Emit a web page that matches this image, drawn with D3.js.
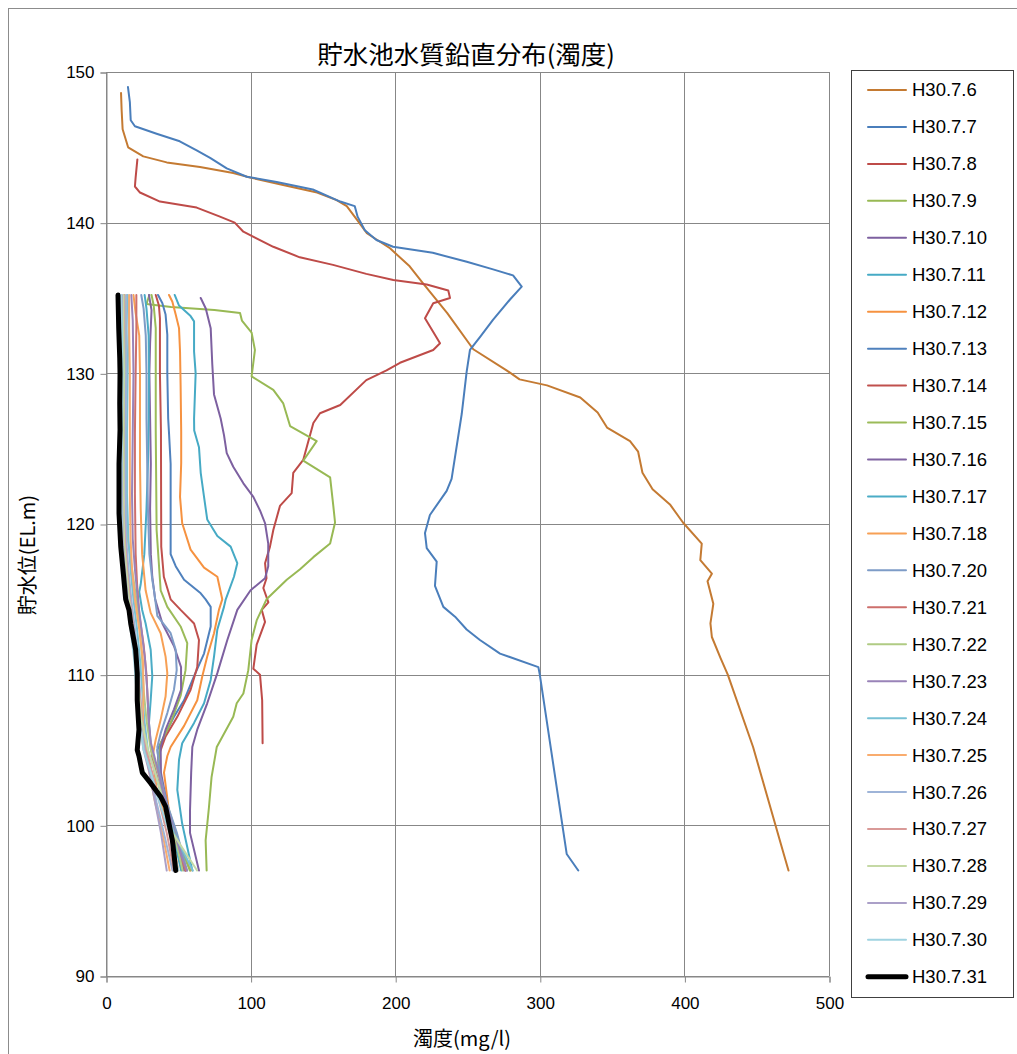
<!DOCTYPE html>
<html lang="ja">
  <head>
    <meta charset="utf-8">
    <title>貯水池水質鉛直分布(濁度)</title>
    <script src="https://cdn.jsdelivr.net/npm/d3@7/dist/d3.min.js"></script>
    <style>
      body { margin: 0; background: #fff; }
      svg text { fill: #000; }
    </style>
  </head>
  <body>
    <div id="chart-area"></div>
    <script>
      // [turbidity mg/l, elevation EL.m]
      const s0706 = [[10.4,148.6],[10.8,147.5],[11.5,146.2],[15.3,145.0],[25.8,144.4],[42,144.0],[65,143.7],[88,143.3],[99.6,143.0],[122.5,142.5],[146,142.0],[159.5,141.5],[166.5,141.1],[173.5,140.2],[180.4,139.3],[196.4,138.3],[210,137.1],[219,136.0],[236,134.0],[254,131.6],[277,130.2],[286,129.6],[305,129.2],[328,128.4],[340,127.4],[346.5,126.4],[362.4,125.5],[368,124.8],[371,123.4],[378,122.3],[390,121.3],[399,120.1],[412,118.7],[411,117.6],[419,116.7],[416,116.2],[420,114.7],[418,113.4],[419,112.5],[425,111.1],[430,110.0],[447.5,105.2],[469,98.0],[472,97.0]];
      const s0707 = [[15.2,149.0],[16.5,148.0],[17.1,146.8],[20,146.4],[35,145.9],[51,145.4],[62.7,144.8],[72,144.3],[83.5,143.6],[97.3,143.05],[118,142.7],[143,142.2],[162,141.4],[172,141.1],[174,140.4],[179,139.5],[187,138.85],[198.5,138.4],[226,138.0],[249.5,137.4],[267.7,136.9],[281.5,136.5],[287.5,135.75],[279.4,134.9],[267.6,133.55],[258.6,132.4],[251.7,131.55],[249.4,130.1],[246,127.3],[239,123.0],[235.6,122.2],[224,120.6],[220.6,119.4],[221.8,118.4],[228.7,117.5],[227.5,115.9],[233.3,114.5],[241.4,113.85],[249.4,113.0],[258.6,112.3],[272.5,111.4],[299,110.5],[300,110.0],[318.6,98.1],[326.6,97.0]];
      const s0708 = [[21.7,144.2],[20.5,143.0],[20,142.4],[23.5,142.0],[37.3,141.4],[62.7,141.0],[78.8,140.4],[89,140.0],[95,139.4],[115.7,138.4],[134,137.7],[157,137.2],[180,136.6],[198.7,136.2],[221.8,135.9],[236.7,135.5],[237.9,135.0],[226.3,134.65],[220.6,133.65],[231,132.0],[226.3,131.55],[203.3,130.7],[194,130.2],[180,129.55],[162,127.9],[148,127.35],[143.4,126.7],[138.8,125.1],[136.4,124.25],[129.5,123.4],[128.4,122.05],[120.3,121.2],[115.7,119.6],[113.4,118.5],[110,117.4],[111,116.4],[108.8,115.75],[112.3,114.8],[107.7,114.3],[110,113.5],[104.2,112.0],[101.9,110.4],[106.5,110.0],[108,108.3],[108.3,105.45]];
      const s0709 = [[30,135.2],[28,134.6],[45,134.4],[75,134.2],[92.7,134.0],[94,133.5],[100.7,132.7],[103,131.55],[100.7,129.8],[115.7,128.9],[122.6,128.0],[127.3,126.5],[145.7,125.5],[136.4,124.2],[155,123.1],[157.2,121.2],[158.4,120.1],[155,118.7],[143.4,117.8],[134.2,117.0],[125,116.3],[111,115.0],[104.2,113.6],[100.7,112.3],[98.4,110.3],[95,108.75],[90.4,108.1],[88,107.2],[76.6,105.2],[73,103.2],[71.2,101.2],[68.9,99.0],[69.6,97.0]];
      const s0710 = [[65.5,135.0],[69,134.3],[72.4,133.0],[73.5,130.6],[74.7,128.6],[79.3,127.0],[81.6,125.9],[83.5,124.7],[88,123.8],[95,122.7],[101.9,121.8],[106.5,120.9],[110,120.05],[112.2,118.7],[112.2,117.2],[110,116.4],[100,115.6],[90.8,114.3],[83.9,112.3],[77,110.1],[70,108.1],[63.1,106.35],[59.7,105.2],[58.9,103.5],[58.1,101.0],[58.1,99.5],[64.3,97.0]];
      const s0711 = [[47.5,135.2],[50.5,134.5],[58.5,133.8],[60.9,133.45],[60.9,131.45],[62,130.0],[60.9,127.0],[61,126.2],[64.3,125.1],[65.5,123.4],[67.8,121.8],[70,120.3],[77,119.2],[86.2,118.5],[90.8,117.4],[88.5,116.5],[82.8,115.0],[81.6,114.5],[77,113.0],[74.7,111.2],[72.4,109.65],[67.8,108.1],[60.9,106.8],[52.7,105.45],[50.5,104.35],[49.3,102.35],[52.7,100.1],[59.7,97.0]];
      const s0712 = [[43.6,135.2],[45.9,134.75],[48.2,133.9],[50.5,133.0],[51.2,131.45],[51.6,129.2],[52,126.1],[52,124.05],[51.2,121.8],[52.7,120.05],[58.5,118.3],[67.8,117.1],[77,116.5],[80.4,115.0],[78.1,114.3],[74.7,112.75],[70,111.2],[66.6,109.9],[63.1,108.3],[54,106.6],[44.7,105.2],[42.4,104.6],[40.1,103.5],[44.7,100.1],[58.5,97.0]];
      const s0713 = [[36,135.2],[39,134.65],[41.2,133.9],[42.4,132.55],[42.4,130.0],[43,127.0],[43.6,126.0],[44.7,124.0],[44.7,118.0],[48.2,117.2],[54,116.3],[65.5,115.4],[68.9,115.0],[72.4,114.5],[72.4,113.2],[67.8,111.4],[60.9,109.9],[54,108.3],[47,107.2],[40.1,105.9],[35.5,105.0],[38,103],[45,100.2],[55,97.0]];
      const s0714 = [[34.4,135.2],[36.6,134.5],[37.3,133.65],[37.3,130.0],[38,126.2],[38.2,118.5],[40,116.5],[44.7,115.0],[51.6,114.3],[60.9,113.4],[64.3,112.3],[63.1,110.5],[58.5,109.0],[49.3,107.2],[41.2,105.9],[36,104.5],[40,102],[46,100],[55,97.0]];
      const s0715 = [[31.5,135.2],[33,134.5],[34.4,133],[34.4,130],[34.4,126.2],[35,119.6],[37.8,115.6],[42.4,114.5],[51.6,113.2],[56.2,112.1],[55,110.3],[51.6,108.6],[44.7,106.8],[37.8,105.45],[36,104],[42,101.5],[50,99],[58,97.0]];
      const s0716 = [[29.7,135.2],[31.5,134.2],[30.5,132],[30,130],[30.5,127],[31,124],[30.5,121],[31,118],[32,116.5],[34,115],[39,113.4],[47,111.9],[51.9,110.5],[51.9,109.0],[47,107.7],[41.2,106.35],[37.8,105.2],[38,103.5],[42,101.5],[47,99.5],[54,97.0]];
      const s0717 = [[26.7,135.2],[28,134.3],[29.5,132.5],[29.7,130],[29.5,127],[29,124],[28,121],[26.5,118],[24,116],[23,115.5],[25,114.3],[27.4,113.4],[30.9,111.65],[32,109.9],[30.9,108.3],[29.7,106.8],[30.9,105.45],[34,103.5],[40,101.5],[46,99.5],[52,97.0]];
      const s0718 = [[19,135.2],[20.5,134],[23,132.5],[23.5,130],[23.5,127],[23.5,124],[24,121],[25,118],[26.5,116.5],[27.4,115.6],[30.9,114.1],[37.8,112.75],[41.2,111.2],[42.4,110.1],[41.2,108.55],[37.8,107.0],[34.4,105.7],[32,104.5],[35,102.5],[41,100.5],[47,98.5],[50,97.0]];
      const s0720 = [[24.4,135.2],[26,134.3],[27.5,132.5],[28,130],[28,127],[28.5,124],[29,121],[30,118],[32,116.3],[33.2,115.6],[35.5,113.9],[44.7,112.75],[48.2,111.65],[48.9,110.3],[47,109.0],[42.4,107.45],[37.8,106.1],[35.5,105.2],[37,103.5],[42,101.5],[49,99.5],[56,97.0]];
      const s0721 = [[21,135.2],[21,133],[20.5,130],[20,126],[20,122],[20.5,118],[21.5,116],[23,114],[26,112],[28,110],[29,108],[30,106],[32,104.5],[36,103],[42,101],[48,99],[55,97.0]];
      const s0722 = [[13,135.2],[13.5,133],[13,130],[13,126],[13.5,122],[15,119],[18,117],[21,115],[23.5,113],[25,111],[26,109],[28,107],[31,105],[36,103.5],[41,101.5],[47,99.5],[53,97.0]];
      const s0723 = [[17.5,135.2],[18.5,133.5],[19,130],[18.5,126],[18,122],[18.5,119],[20,117],[22,115],[24.5,113],[27,111],[28.5,109],[29.5,107],[31,105.5],[35,104],[40,102],[46,100],[52,98],[56,97.0]];
      const s0724 = [[15,135.2],[15.5,133],[15,130],[14.5,126],[14.5,122],[15.5,119],[17,117],[19,115],[21.5,113],[23.5,111],[25,109],[26.5,107],[29,105],[34,103.5],[40,101.5],[47,99.5],[60,97.0]];
      const s0725 = [[16,135.2],[16,133],[16.5,130],[16.5,126],[16.5,122],[17,119],[18,117],[20,115],[23,113],[25.5,111],[26,109],[25.5,107],[27,105],[30,103.5],[34,101.5],[39,99.5],[44,97.0]];
      const s0726 = [[14,135.2],[14,133],[14,130],[13.5,126],[13.5,122],[14,119],[15.5,117],[17.5,115],[20,113],[22,111],[23.5,109],[25,107],[27,105],[31,103.5],[35,101.5],[40,99.5],[46,97.0]];
      const s0727 = [[12.5,135.2],[12.5,133],[12.5,130],[12,126],[12,122],[13,119],[14.5,117],[16.5,115],[19,113],[21.5,111],[23,109],[25,107],[28,105],[32,103.5],[37,101.5],[42,99.5],[47,97.0]];
      const s0728 = [[12,135.2],[12,133],[12.5,130],[12,126],[12,122],[12.5,119],[14,117],[16,115],[18.5,113],[21,111],[22.5,109],[24.5,107],[29,105],[34,103.5],[40,101.5],[46,99.5],[63,97.0]];
      const s0729 = [[11,135.2],[11,133],[11,130],[11,126],[11,122],[11.5,119],[13,117],[15,115],[17.5,113],[20,111],[21.5,109],[23,107],[26,105],[30,103.5],[34,101.5],[38,99.5],[42,97.0]];
      const s0730 = [[10.5,135.2],[11,133],[11.5,130],[11,126],[10.5,122],[11,119],[12.5,117],[14.5,115],[17,113],[19.5,111],[21,109],[23,107],[26,105],[31,103.5],[37,101.5],[44,99.5],[50,97.0]];
      const s0731 = [[8.3,135.2],[8.8,133],[9.5,131],[9.7,130],[9.5,128],[9.7,126.25],[9,124],[9,122],[9,120.7],[10.2,118.5],[12,116.7],[13.6,115.0],[15.9,114.3],[17.1,113.4],[20.5,111.65],[21.6,110.1],[21.6,108.3],[22.8,106.35],[21.6,105.0],[22.8,104.6],[25.1,103.5],[30.9,102.8],[37.8,101.9],[41.2,101.25],[43.6,100.1],[45.9,99.0],[47,98.1],[48.2,97.0]];

      const seriesNames = ['H30.7.6','H30.7.7','H30.7.8','H30.7.9','H30.7.10','H30.7.11','H30.7.12','H30.7.13','H30.7.14','H30.7.15','H30.7.16','H30.7.17','H30.7.18','H30.7.20','H30.7.21','H30.7.22','H30.7.23','H30.7.24','H30.7.25','H30.7.26','H30.7.27','H30.7.28','H30.7.29','H30.7.30','H30.7.31'];
      const seriesValues = [s0706,s0707,s0708,s0709,s0710,s0711,s0712,s0713,s0714,s0715,s0716,s0717,s0718,s0720,s0721,s0722,s0723,s0724,s0725,s0726,s0727,s0728,s0729,s0730,s0731];
      const seriesColors = ['#C47A32','#4A7EBB','#BE4B48','#98B954','#7D60A0','#46AAC5','#F69240','#4F81BD','#C0504D','#9BBB59','#8064A2','#4BACC6','#F7A055','#7E9CC7','#CD6F6C','#B0CB84','#9983B8','#78C1D5','#F9AC6E','#9EB4D8','#D99A98','#C5D9A5','#ABA0C8','#A0D3E1','#000000'];
      const xTicks = [0,100,200,300,400,500];
      const yTicks = [90,100,110,120,130,140,150];

      const svg_width = 1017;
      const svg_height = 1054;
      const plot = {left: 106, top: 72, right: 829, bottom: 976};
      const grid_color = '#878787';
      const jp_font = '"Noto Sans CJK JP", "Noto Sans", sans-serif';
      const num_font = '"Liberation Sans", Arial, sans-serif';

      const x_scale = d3.scaleLinear().domain([0,500]).range([plot.left, plot.right]);
      const y_scale = d3.scaleLinear().domain([90,150]).range([plot.bottom, plot.top]);

      const svg = d3.select('#chart-area')
        .append('svg')
        .attr('width', svg_width)
        .attr('height', svg_height);

      //outer chart frame (runs off the right and bottom edge)
      svg.append('rect')
        .attr('x', 8.5).attr('y', 8.5)
        .attr('width', 1100).attr('height', 1100)
        .attr('fill', 'none')
        .attr('stroke', '#8c8c8c');

      //grid lines
      svg.append('g')
        .selectAll('line.vgrid')
        .data(xTicks)
        .enter()
        .append('line')
        .attr('x1', d => Math.round(x_scale(d)) + 0.5)
        .attr('x2', d => Math.round(x_scale(d)) + 0.5)
        .attr('y1', plot.top)
        .attr('y2', plot.bottom)
        .attr('stroke', grid_color);
      svg.append('g')
        .selectAll('line.hgrid')
        .data(yTicks)
        .enter()
        .append('line')
        .attr('x1', plot.left)
        .attr('x2', plot.right)
        .attr('y1', d => Math.round(y_scale(d)) + 0.5)
        .attr('y2', d => Math.round(y_scale(d)) + 0.5)
        .attr('stroke', grid_color);

      //axes
      const x_axis = d3.axisBottom(x_scale).tickValues(xTicks).tickSize(6).tickPadding(14);
      const y_axis = d3.axisLeft(y_scale).tickValues(yTicks).tickSize(6).tickPadding(6);
      const gx = svg.append('g')
        .attr('transform', `translate(0.5,${Math.round(plot.bottom) + 0.5})`)
        .call(x_axis);
      const gy = svg.append('g')
        .attr('transform', `translate(${plot.left + 0.5},0.5)`)
        .call(y_axis);
      [gx, gy].forEach(g => {
        g.selectAll('.domain').attr('stroke', grid_color);
        g.selectAll('.tick line').attr('stroke', grid_color);
        g.selectAll('.tick text')
          .attr('font-family', num_font)
          .attr('font-size', '17px')
          .attr('fill', '#000');
      });

      //series lines
      const line = d3.line()
        .x(d => x_scale(d[0]))
        .y(d => y_scale(d[1]));
      svg.append('g')
        .selectAll('path')
        .data(seriesValues)
        .enter()
        .append('path')
        .attr('d', d => line(d))
        .attr('fill', 'none')
        .attr('stroke', (d,i) => seriesColors[i])
        .attr('stroke-width', (d,i) => i === seriesValues.length - 1 ? 5 : 2)
        .attr('stroke-linejoin', 'round')
        .attr('stroke-linecap', 'round');

      //titles
      svg.append('text')
        .attr('x', 466).attr('y', 64)
        .attr('text-anchor', 'middle')
        .attr('font-family', jp_font)
        .attr('font-size', '25.5px')
        .text('貯水池水質鉛直分布(濁度)');
      svg.append('text')
        .attr('transform', 'translate(35,555) rotate(-90)')
        .attr('text-anchor', 'middle')
        .attr('font-family', jp_font)
        .attr('font-size', '20px')
        .text('貯水位(EL.m)');
      svg.append('text')
        .attr('x', 462).attr('y', 1046)
        .attr('text-anchor', 'middle')
        .attr('font-family', jp_font)
        .attr('font-size', '20px')
        .text('濁度(mg/l)');

      //legend
      const legend = svg.append('g');
      legend.append('rect')
        .attr('x', 851.5).attr('y', 70.5)
        .attr('width', 162).attr('height', 927)
        .attr('fill', '#fff')
        .attr('stroke', '#404040');
      const items = legend.selectAll('g.item')
        .data(seriesNames)
        .enter()
        .append('g')
        .attr('transform', (d,i) => `translate(0,${90 + i * 36.95})`);
      items.append('line')
        .attr('x1', 868).attr('x2', 906)
        .attr('stroke', (d,i) => seriesColors[i])
        .attr('stroke-width', (d,i) => i === seriesNames.length - 1 ? 5 : 2)
        .attr('stroke-linecap', 'round');
      items.append('text')
        .attr('x', 912)
        .attr('dy', '0.35em')
        .attr('font-family', num_font)
        .attr('font-size', '18.5px')
        .text(d => d);
    </script>
  </body>
</html>
